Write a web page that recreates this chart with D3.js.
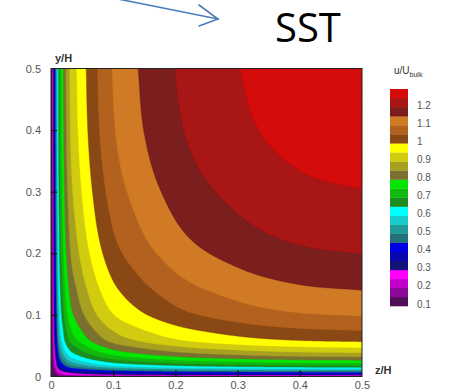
<!DOCTYPE html>
<html>
<head>
<meta charset="utf-8">
<script src="https://cdn.jsdelivr.net/npm/d3@7"></script>
<style>
  body { margin: 0; background: #fff; }
  svg text { font-family: "Liberation Sans", Arial, sans-serif; }
</style>
</head>
<body>
<svg id="chart" width="450" height="392"></svg>
<script>
// Streamwise velocity on the two mid-planes against distance from the wall
const midU      = [0, 0.30, 0.45, 0.65, 0.80, 0.90, 0.95, 1.00, 1.05,
                   1.10, 1.15, 1.20, 1.25, 1.275, 1.285];
// z/H from the side wall, along y/H = 0.5
const wallDistZ = [0, 0.0040, 0.0072, 0.0120, 0.0200, 0.0300, 0.0415, 0.0565, 0.0745,
                   0.098, 0.14, 0.199, 0.304, 0.40, 0.50];
// y/H from the bottom wall, along z/H = 0.5
const wallDistY = [0, 0.0022, 0.0070, 0.0150, 0.0265, 0.0385, 0.0470, 0.0565, 0.0745,
                   0.098, 0.14, 0.199, 0.304, 0.40, 0.50];

// Contour levels (band lower bounds) and band fills
const levelValues = [0.10, 0.15, 0.20, 0.25, 0.30, 0.35, 0.40, 0.45, 0.50, 0.55, 0.60, 0.65,
                     0.70, 0.75, 0.80, 0.85, 0.90, 0.95, 1.00, 1.05, 1.10, 1.15, 1.20, 1.25];
const levelColors = ["#501058", "#8a0898", "#c000c8", "#ff00ff", "#141478", "#0808b0", "#0000e6",
                     "#22707a", "#229a9a", "#18cccc", "#00ffff", "#1e8c1e", "#10b810", "#00e600",
                     "#7a7030", "#a8a020", "#d2cc10", "#ffff00", "#8a4814", "#b2621e", "#d07a26",
                     "#7a1e1e", "#a81616", "#d40c0c"];
const levelStep = 0.05;

const legendTicks = [0.1, 0.2, 0.3, 0.4, 0.5, 0.6, 0.7, 0.8, 0.9, 1, 1.1, 1.2];
const axisTicks = [0, 0.1, 0.2, 0.3, 0.4, 0.5];

const svg = d3.select("#chart");

const x = d3.scaleLinear().domain([0, 0.5]).range([51, 362]);
const y = d3.scaleLinear().domain([0, 0.5]).range([376.5, 68.5]);

// Monotone (Steffen) cubic through a wall-normal profile
function monotoneProfile(xs, ys) {
  const m = xs.length;
  const h = [], s = [];
  for (let k = 0; k < m - 1; k++) {
    h.push(xs[k + 1] - xs[k]);
    s.push((ys[k + 1] - ys[k]) / h[k]);
  }
  const t = new Array(m);
  t[0] = s[0];
  t[m - 1] = s[m - 2];
  for (let k = 1; k < m - 1; k++) {
    const p = (s[k - 1] * h[k] + s[k] * h[k - 1]) / (h[k - 1] + h[k]);
    t[k] = (Math.sign(s[k - 1]) + Math.sign(s[k])) *
      Math.min(Math.abs(s[k - 1]), Math.abs(s[k]), 0.5 * Math.abs(p));
  }
  const find = d3.bisector(d => d).right;
  return v => {
    if (v <= xs[0]) return ys[0];
    if (v >= xs[m - 1]) return ys[m - 1];
    const k = Math.min(m - 2, find(xs, v) - 1);
    const u = (v - xs[k]) / h[k];
    const h00 = (1 + 2 * u) * (1 - u) * (1 - u);
    const h10 = u * (1 - u) * (1 - u);
    const h01 = u * u * (3 - 2 * u);
    const h11 = u * u * (u - 1);
    return h00 * ys[k] + h10 * h[k] * t[k] + h01 * ys[k + 1] + h11 * h[k] * t[k + 1];
  };
}

// Velocity field on a regular grid: product of the two wall-normal profiles
const profileZ = monotoneProfile(wallDistZ, midU);
const profileY = monotoneProfile(wallDistY, midU);
const uCentre = midU[midU.length - 1];
const n = 640;
const cell = 0.5 / n;
const edgeZ = new Float64Array(n), edgeY = new Float64Array(n);
for (let i = 0; i < n; i++) {
  edgeZ[i] = profileZ((i + 0.5) * cell);
  edgeY[i] = profileY((i + 0.5) * cell);
}
const field = new Float64Array(n * n);
for (let j = 0; j < n; j++) {
  for (let i = 0; i < n; i++) field[j * n + i] = edgeZ[i] * edgeY[j] / uCentre;
}

const thresholds = levelValues.slice(1);
const contours = d3.contours().size([n, n]).thresholds(thresholds)(field);

const project = d3.geoTransform({
  point(gx, gy) { this.stream.point(x(gx * cell), y(gy * cell)); }
});
const path = d3.geoPath(project);

const frame = { x: x(0), y: y(0.5), w: x(0.5) - x(0), h: y(0) - y(0.5) };
svg.append("clipPath").attr("id", "plotClip")
  .append("rect").attr("x", frame.x).attr("y", frame.y)
  .attr("width", frame.w).attr("height", frame.h);

const plot = svg.append("g").attr("clip-path", "url(#plotClip)");
plot.append("rect").attr("x", frame.x).attr("y", frame.y)
  .attr("width", frame.w).attr("height", frame.h)
  .attr("fill", levelColors[0]);

plot.selectAll("path.band")
  .data(contours)
  .join("path")
  .attr("class", "band")
  .attr("d", path)
  .attr("fill", (d, i) => levelColors[i + 1])
  .attr("stroke", (d, i) => levelColors[i + 1])
  .attr("stroke-width", 0.4);

svg.append("rect").attr("x", frame.x).attr("y", frame.y)
  .attr("width", frame.w).attr("height", frame.h)
  .attr("fill", "none").attr("stroke", "#222").attr("stroke-width", 1);

// Axes with inward ticks
const xAxis = d3.axisBottom(x).tickValues(axisTicks).tickFormat(d3.format("~g"))
  .tickSizeInner(-6).tickSizeOuter(0).tickPadding(11);
const gx = svg.append("g").attr("transform", `translate(0,${y(0)})`).call(xAxis);
const yAxis = d3.axisLeft(y).tickValues(axisTicks).tickFormat(d3.format("~g"))
  .tickSizeInner(-6).tickSizeOuter(0).tickPadding(10);
const gy = svg.append("g").attr("transform", `translate(${x(0)},0)`).call(yAxis);

[gx, gy].forEach(g => {
  g.select(".domain").remove();
  g.selectAll(".tick line").attr("stroke", "#111").attr("stroke-width", 1.2)
    .filter(d => d === 0 || d === 0.5).remove();
  g.selectAll(".tick text").attr("fill", "#555").style("font-size", "11px");
});
gx.selectAll(".tick text").attr("y", 5);

// Axis titles
svg.append("text").attr("x", 55).attr("y", 62).text("y/H")
  .style("font-size", "11px").style("font-weight", "bold").attr("fill", "#333");
svg.append("text").attr("x", 375).attr("y", 374).text("z/H")
  .style("font-size", "11px").style("font-weight", "bold").attr("fill", "#333");

// Colour legend
const ly = d3.scaleLinear().domain([0.1, 1.3]).range([306, 89]);
const legend = svg.append("g");
legend.selectAll("rect")
  .data(levelValues)
  .join("rect")
  .attr("x", 390)
  .attr("width", 18)
  .attr("y", d => ly(d + levelStep))
  .attr("height", d => ly(d) - ly(d + levelStep) + 0.3)
  .attr("fill", (d, i) => levelColors[i]);
legend.selectAll("text")
  .data(legendTicks)
  .join("text")
  .attr("x", 417)
  .attr("y", d => ly(d) - 2)
  .attr("dy", "0.35em")
  .attr("fill", "#555")
  .style("font-size", "10px")
  .text(d => d3.format("~g")(d));

const title = svg.append("text").attr("x", 394).attr("y", 74)
  .style("font-size", "10px").attr("fill", "#333");
title.append("tspan").text("u/U");
title.append("tspan").attr("dy", 3).style("font-size", "7px").text("bulk");

// Heading with pointer arrow
svg.append("text").attr("x", 275).attr("y", 42).text("SST")
  .style("font-family", "'Open Sans', 'Noto Sans', sans-serif")
  .style("font-size", "40px").attr("fill", "#000");
const arrow = svg.append("g").attr("stroke", "#4a7ebb").attr("stroke-width", 1.6)
  .attr("fill", "none").attr("stroke-linecap", "round");
arrow.append("line").attr("x1", 118).attr("y1", -1).attr("x2", 218).attr("y2", 19);
arrow.append("polyline").attr("points", "199,5 218,19 199,26");
</script>
</body>
</html>
